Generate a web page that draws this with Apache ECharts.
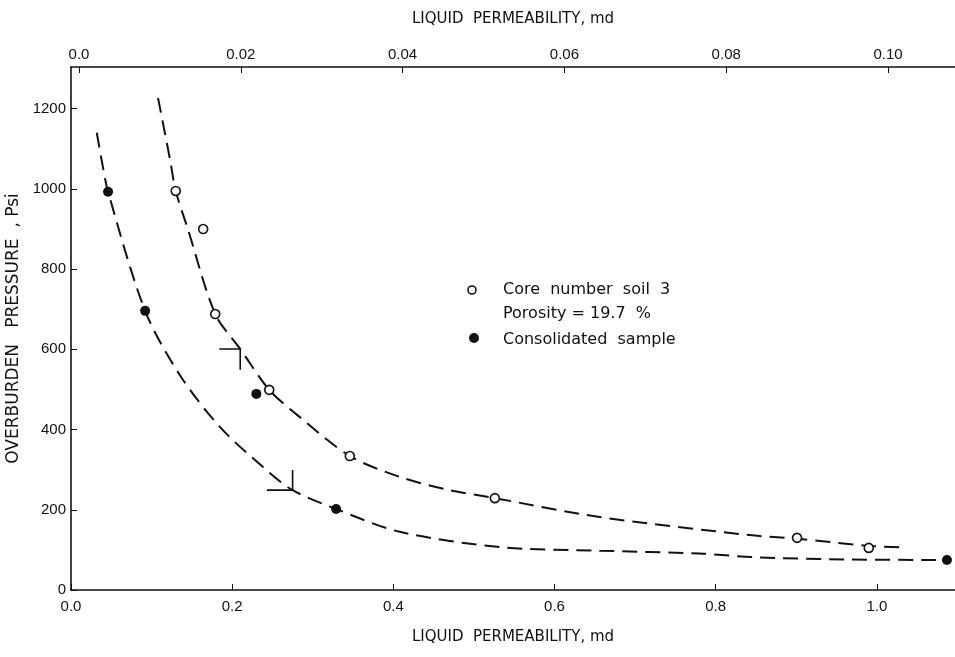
<!DOCTYPE html>
<html>
<head>
<meta charset="utf-8">
<script src="https://cdn.jsdelivr.net/npm/echarts@6/dist/echarts.min.js"></script>
<style>
    html, body { margin: 0; padding: 0; background: #fff; }
    #chart { width: 955px; height: 657px; }
</style>
</head>
<body>
<div id="chart"></div>
<script>
// tick labels
var permTicks = [0, 0.2, 0.4, 0.6, 0.8, 1.0];
var topPermTicks = [0, 0.02, 0.04, 0.06, 0.08, 0.10];
var pressureTicks = [0, 200, 400, 600, 800, 1000, 1200];

// measured points [permeability md, pressure psi]
var coreSoil3 = [[0.130, 995], [0.164, 900], [0.179, 688], [0.246, 499], [0.346, 334], [0.526, 229], [0.901, 130], [0.990, 105]];
var consolidated = [[0.046, 993], [0.092, 696], [0.230, 489], [0.329, 202], [1.087, 75]];

// dashed fitted curves
var coreCurve = [[0.108, 1227], [0.123, 1072], [0.130, 995], [0.145, 900], [0.179, 688], [0.210, 601], [0.246, 499],
    [0.284, 431], [0.346, 334], [0.408, 282], [0.470, 249], [0.526, 229], [0.656, 182], [0.842, 137], [0.901, 128],
    [0.990, 110], [1.032, 106]];
var consolidatedCurve = [[0.032, 1140], [0.038, 1072], [0.046, 993], [0.092, 696], [0.135, 536], [0.185, 406],
    [0.238, 307], [0.275, 249], [0.329, 202], [0.408, 145], [0.532, 107], [0.656, 98], [0.780, 91], [0.845, 82],
    [0.967, 76], [1.087, 75]];

// little axis pointers drawn on each curve
var coreArrow = [[0.184, 601], [0.210, 601], [0.210, 549]];
var consolidatedArrow = [[0.243, 249], [0.275, 249], [0.275, 299]];

var ink = '#111';
var numFont = { color: ink, fontSize: 15, fontFamily: 'Liberation Sans' };

var chart = echarts.init(document.getElementById('chart'));

chart.setOption({
    animation: false,
    backgroundColor: '#fff',
    grid: { left: 71, right: 0, top: 67, bottom: 67, containLabel: false, outerBoundsMode: 'none' },
    xAxis: [{
        type: 'value',
        position: 'bottom',
        min: 0,
        max: 1.097,
        name: 'LIQUID  PERMEABILITY, md',
        nameLocation: 'middle',
        nameGap: 40,
        nameTextStyle: { color: ink, fontSize: 15, fontFamily: 'DejaVu Sans' },
        axisLine: { lineStyle: { color: ink, width: 1.6 } },
        axisTick: { inside: true, length: 6, customValues: permTicks, lineStyle: { color: ink } },
        axisLabel: {
            customValues: permTicks, margin: 9, ...numFont,
            formatter: function (v) { return v.toFixed(1); }
        },
        splitLine: { show: false }
    }, {
        type: 'value',
        position: 'top',
        min: -0.00099,
        max: 0.10828,
        name: 'LIQUID  PERMEABILITY, md',
        nameLocation: 'middle',
        nameGap: 40,
        nameTextStyle: { color: ink, fontSize: 15, fontFamily: 'DejaVu Sans' },
        axisLine: { lineStyle: { color: ink, width: 1.6 } },
        axisTick: { inside: true, length: 6, customValues: topPermTicks, lineStyle: { color: ink } },
        axisLabel: {
            customValues: topPermTicks, margin: 5, ...numFont,
            formatter: function (v) { return v === 0 ? '0.0' : v.toFixed(2); }
        },
        splitLine: { show: false }
    }],
    yAxis: {
        type: 'value',
        min: 0,
        max: 1304,
        name: 'OVERBURDEN   PRESSURE  , Psi',
        nameLocation: 'middle',
        nameGap: 42,
        nameTextStyle: { color: ink, fontSize: 17, fontFamily: 'DejaVu Sans' },
        axisLine: { show: true, lineStyle: { color: ink, width: 1.6 } },
        axisTick: { show: true, inside: true, length: 6, customValues: pressureTicks, lineStyle: { color: ink } },
        axisLabel: {
            customValues: pressureTicks, margin: 5, ...numFont,
            formatter: function (v) { return String(v); }
        },
        splitLine: { show: false }
    },
    graphic: [
        { type: 'circle', shape: { cx: 472, cy: 290, r: 4 }, style: { fill: '#fff', stroke: ink, lineWidth: 1.6 } },
        { type: 'text', x: 503, y: 290, style: { text: 'Core  number  soil  3', fill: ink, font: '16px DejaVu Sans', verticalAlign: 'middle' } },
        { type: 'text', x: 503, y: 314, style: { text: 'Porosity = 19.7  %', fill: ink, font: '16px DejaVu Sans', verticalAlign: 'middle' } },
        { type: 'circle', shape: { cx: 474, cy: 338, r: 5 }, style: { fill: ink } },
        { type: 'text', x: 503, y: 340, style: { text: 'Consolidated  sample', fill: ink, font: '16px DejaVu Sans', verticalAlign: 'middle' } }
    ],
    series: [{
        name: 'Core curve',
        type: 'line',
        data: coreCurve,
        smooth: 0.3,
        showSymbol: false,
        lineStyle: { color: ink, width: 2, type: [15, 8] }
    }, {
        name: 'Consolidated curve',
        type: 'line',
        data: consolidatedCurve,
        smooth: 0.3,
        showSymbol: false,
        lineStyle: { color: ink, width: 2, type: [15, 8] }
    }, {
        name: 'Core arrow',
        type: 'line',
        data: coreArrow,
        showSymbol: false,
        lineStyle: { color: ink, width: 1.6 }
    }, {
        name: 'Consolidated arrow',
        type: 'line',
        data: consolidatedArrow,
        showSymbol: false,
        lineStyle: { color: ink, width: 1.6 }
    }, {
        name: 'Core number soil 3',
        type: 'scatter',
        data: coreSoil3,
        symbol: 'circle',
        symbolSize: 9,
        itemStyle: { color: '#fff', borderColor: ink, borderWidth: 1.6, opacity: 1 },
        z: 5
    }, {
        name: 'Consolidated sample',
        type: 'scatter',
        data: consolidated,
        symbol: 'circle',
        symbolSize: 10,
        itemStyle: { color: ink, opacity: 1 },
        z: 5
    }]
});
</script>
</body>
</html>
